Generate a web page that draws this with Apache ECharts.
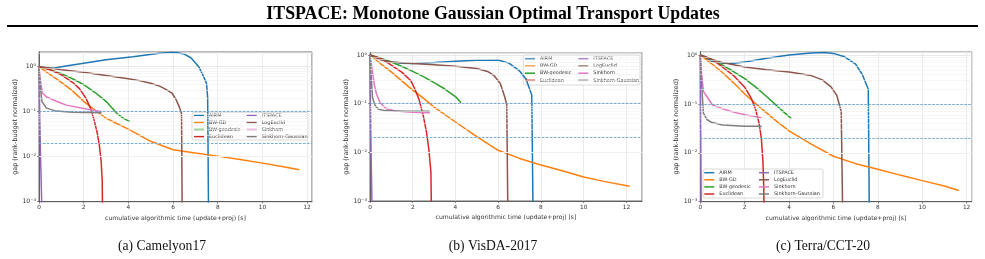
<!DOCTYPE html>
<html><head><meta charset="utf-8">
<script src="https://cdn.jsdelivr.net/npm/echarts@6/dist/echarts.min.js"></script>
<style>html,body{margin:0;padding:0;background:#fff}#c{width:985px;height:259px}</style>
</head><body><div id="c"></div><script>
// ---------- data ----------
const methods = ['AIRM','BW-GD','BW-geodesic','Euclidean','ITSPACE','LogEuclid','Sinkhorn','Sinkhorn-Gaussian'];
const colors = ['#1f77b4','#ff7f0e','#2ca02c','#d62728','#9467bd','#8c564b','#e377c2','#7f7f7f'];
const thresholds = [0.1, 0.02];
const xTicks = [0, 2, 4, 6, 8, 10, 12];
const yTicks = [0.001, 0.01, 0.1, 1];
const panelTitles = ['(a) Camelyon17', '(b) VisDA-2017', '(c) Terra/CCT-20'];

// (a) Camelyon17  [time s, gap]
const cam_AIRM = [[0,1],[0.3,0.92],[0.7,0.93],[1.2,1.03],[2,1.19],[3,1.42],[4.2,1.67],[5.4,1.98],[5.9,2.08],[6.2,2.05],[6.5,1.9],[6.8,1.58],[7.15,1.0],[7.37,0.6],[7.5,0.42],[7.55,0.2],[7.6,0.0001]];
const cam_BWGD = [[0,1],[0.5,0.67],[1,0.45],[1.5,0.29],[2,0.17],[2.5,0.108],[3,0.072],[3.5,0.054],[4,0.041],[5,0.022],[6,0.0143],[7,0.0121],[8,0.0103],[9,0.0087],[10,0.0072],[11,0.0059],[11.65,0.0051]];
const cam_BWgeo = [[0,1],[0.5,0.86],[1,0.7],[1.5,0.54],[2,0.4],[2.5,0.27],[3,0.17],[3.5,0.09],[3.8,0.07],[4.07,0.06]];
const cam_Eucl = [[0,1],[0.5,0.85],[1,0.66],[1.5,0.45],[1.8,0.33],[2.1,0.2],[2.3,0.12],[2.45,0.07],[2.6,0.035],[2.7,0.018],[2.78,0.008],[2.83,0.003],[2.86,0.0001]];
const cam_ITS = [[0,1],[0.03,0.1],[0.07,0.01],[0.12,0.001],[0.14,0.0001]];
const cam_LogE = [[0,1],[0.5,0.93],[1,0.86],[2,0.75],[3,0.64],[4,0.54],[4.5,0.49],[5,0.43],[5.4,0.37],[5.7,0.31],[5.95,0.26],[6.15,0.18],[6.3,0.12],[6.38,0.09],[6.42,0.0001]];
const cam_Sink = [[0,1],[0.05,0.55],[0.15,0.26],[0.33,0.215],[0.78,0.17],[1.23,0.14],[2,0.118],[2.5,0.107],[2.8,0.1]];
const cam_SinkG = [[0,1],[0.05,0.4],[0.13,0.17],[0.33,0.12],[0.78,0.103],[1.5,0.097],[2.8,0.095]];

// (b) VisDA-2017
const vis_AIRM = [[0,1],[0.5,0.82],[1,0.72],[1.5,0.68],[2,0.67],[3,0.7],[4,0.74],[5,0.78],[6,0.79],[6.5,0.68],[7,0.47],[7.3,0.32],[7.57,0.15],[7.65,0.0001]];
const vis_BWGD = [[0,1],[0.5,0.66],[1,0.45],[1.5,0.29],[2,0.19],[2.5,0.13],[3,0.085],[4,0.042],[5,0.021],[6,0.011],[7,0.0075],[8,0.0055],[9,0.0042],[10,0.0031],[11,0.0025],[12.15,0.002]];
const vis_BWgeo = [[0,1],[0.5,0.86],[1,0.72],[1.5,0.58],[2,0.46],[2.5,0.36],[3,0.27],[3.5,0.2],[4,0.14],[4.26,0.105]];
const vis_Eucl = [[0,1],[0.5,0.85],[1,0.62],[1.5,0.44],[1.9,0.3],[2.1,0.2],[2.3,0.12],[2.5,0.055],[2.65,0.025],[2.75,0.012],[2.85,0.004],[2.9,0.0001]];
const vis_ITS = [[0,1],[0.02,0.1],[0.05,0.01],[0.09,0.001],[0.1,0.0001]];
const vis_LogE = [[0,1],[0.5,0.8],[1,0.72],[2,0.67],[3,0.63],[4,0.59],[5,0.53],[5.5,0.46],[5.8,0.38],[6.1,0.26],[6.3,0.14],[6.4,0.095],[6.47,0.0001]];
const vis_Sink = [[0,1],[0.1,0.5],[0.2,0.25],[0.3,0.16],[0.45,0.11],[0.6,0.09],[0.8,0.078],[1.2,0.071],[2,0.067],[2.8,0.065]];
const vis_SinkG = [[0,1],[0.05,0.4],[0.12,0.13],[0.25,0.09],[0.4,0.077],[0.7,0.072],[1.5,0.07],[2.8,0.07]];

// (c) Terra/CCT-20
const ter_AIRM = [[0,1],[0.5,0.75],[1,0.68],[1.5,0.68],[2,0.72],[3,0.86],[4,1.0],[5,1.1],[5.6,1.13],[6,1.08],[6.5,0.92],[7,0.65],[7.3,0.4],[7.57,0.2],[7.63,0.0001]];
const ter_BWGD = [[0,1],[0.5,0.67],[1,0.44],[1.5,0.27],[2,0.16],[2.5,0.1],[3,0.065],[3.5,0.042],[4,0.028],[5,0.015],[6,0.0085],[7,0.006],[8,0.0046],[9,0.0035],[10,0.0027],[11,0.0021],[11.65,0.0017]];
const ter_BWgeo = [[0,1],[0.5,0.82],[1,0.62],[1.5,0.46],[2,0.33],[2.5,0.22],[3,0.14],[3.5,0.087],[4.1,0.05]];
const ter_Eucl = [[0,1],[0.5,0.82],[1,0.57],[1.5,0.38],[2,0.22],[2.3,0.13],[2.5,0.075],[2.65,0.04],[2.75,0.02],[2.82,0.007],[2.86,0.002],[2.88,0.0001]];
const ter_ITS = [[0,1],[0.01,0.1],[0.025,0.01],[0.04,0.001],[0.05,0.0001]];
const ter_LogE = [[0,1],[0.5,0.82],[1,0.7],[2,0.57],[3,0.5],[4,0.45],[5,0.38],[5.5,0.31],[5.9,0.22],[6.15,0.15],[6.35,0.07],[6.44,0.0001]];
const ter_Sink = [[0,1],[0.05,0.45],[0.14,0.18],[0.3,0.14],[0.55,0.095],[1,0.08],[1.5,0.068],[2,0.06],[2.5,0.055],[2.76,0.052]];
const ter_SinkG = [[0,1],[0.05,0.3],[0.14,0.065],[0.3,0.048],[0.5,0.042],[1,0.037],[2,0.035],[2.76,0.035]];

const panelData = [
  [cam_AIRM, cam_BWGD, cam_BWgeo, cam_Eucl, cam_ITS, cam_LogE, cam_Sink, cam_SinkG],
  [vis_AIRM, vis_BWGD, vis_BWgeo, vis_Eucl, vis_ITS, vis_LogE, vis_Sink, vis_SinkG],
  [ter_AIRM, ter_BWGD, ter_BWgeo, ter_Eucl, ter_ITS, ter_LogE, ter_Sink, ter_SinkG]
];

// ---------- layout ----------
const layout = [
  {grid:{left:39,top:52,width:273,height:149.7}, xMax:12.22, yMax:2.12, nameGap:19,
   leg:{top:112.3, c1:194, c2:246.7, box:[192,112.3,116,27.7]}, cap:[162,246]},
  {grid:{left:370,top:52.7,width:272,height:148.3}, xMax:12.73, yMax:1.115, nameGap:17.5,
   leg:{top:56, c1:525, c2:578.3, box:[523.3,55,116.7,30]}, cap:[493,246]},
  {grid:{left:700.3,top:51.7,width:271.4,height:150}, xMax:12.23, yMax:1.17, nameGap:19,
   leg:{top:169.7, c1:704.3, c2:759, box:[703,169,120,29]}, cap:[823,246]}
];

const supMap = {'-':'\u207b','0':'\u2070','1':'\u00b9','2':'\u00b2','3':'\u00b3','4':'\u2074','5':'\u2075','6':'\u2076','7':'\u2077','8':'\u2078','9':'\u2079'};
function logFmt(v){
  const l = Math.log10(v), e = Math.round(l);
  if (Math.abs(l - e) > 1e-6) return '';
  return '10' + String(e).split('').map(c => supMap[c]).join('');
}
function xFmt(v){ return xTicks.some(t => Math.abs(t - v) < 1e-9) ? String(v) : ''; }

const minorVals = [];
for (let e = -3; e <= 0; e++) for (let k = 2; k <= 9; k++) minorVals.push(k * Math.pow(10, e));

const font = 'DejaVu Sans';
const grids = [], xAxes = [], yAxes = [], series = [], legends = [], graphics = [];

layout.forEach((L, p) => {
  grids.push(Object.assign({show:true, borderColor:'#444', borderWidth:0.8, backgroundColor:'transparent'}, L.grid));
  xAxes.push({
    type:'value', gridIndex:p, min:0, max:L.xMax, interval:2,
    name:'cumulative algorithmic time (update+proj) [s]', nameLocation:'middle', nameGap:13.5,
    nameTextStyle:{fontFamily:font, fontSize:6.1, color:'#333'},
    axisLine:{show:true, lineStyle:{color:'#444', width:0.8}},
    axisTick:{show:true, length:2, lineStyle:{color:'#444', width:0.6}},
    axisLabel:{fontFamily:font, fontSize:5.8, color:'#333', margin:3, formatter:xFmt, showMaxLabel:false},
    splitLine:{show:true, lineStyle:{color:'#e2e2e2', width:0.7}}
  });
  yAxes.push({
    type:'log', gridIndex:p, min:yTicks[0], max:L.yMax, logBase:10,
    name:'gap (rank-budget normalized)', nameLocation:'middle', nameGap:L.nameGap, nameRotate:90,
    nameTextStyle:{fontFamily:font, fontSize:6.4, color:'#333'},
    axisLine:{show:true, lineStyle:{color:'#444', width:0.8}},
    axisTick:{show:true, length:2, lineStyle:{color:'#444', width:0.6}},
    axisLabel:{fontFamily:font, fontSize:6.2, color:'#333', margin:3, formatter:logFmt, showMaxLabel:false},
    splitLine:{show:true, lineStyle:{color:'#e0e0e0', width:0.7}}
  });
  // minor log grid + threshold lines
  series.push({
    name:'_grid'+p, type:'line', xAxisIndex:p, yAxisIndex:p, data:[], z:1, silent:true,
    itemStyle:{color:'#6aa3d0'}, lineStyle:{color:'#6aa3d0'},
    markLine:{
      silent:true, symbol:['none','none'], label:{show:false}, animation:false,
      data: minorVals.filter(v => v < L.yMax).map(v => ({yAxis:v, lineStyle:{color:'#f0f0f0', width:0.6, type:'solid'}}))
        .concat(thresholds.map(v => ({yAxis:v, lineStyle:{color:'#6aa3d0', opacity:1, width:0.9, type:[2.5,1.5]}})))
    }
  });
  methods.forEach((m, i) => {
    series.push({
      name:m, type:'line', xAxisIndex:p, yAxisIndex:p, data:panelData[p][i],
      showSymbol:false, symbol:'none', clip:true, animation:false,
      lineStyle:{color:colors[i], width:1.5, type:'solid'}, itemStyle:{color:colors[i]}
    });
  });
  const legBase = {
    orient:'vertical', top:L.leg.top, padding:0, itemGap:1.1, itemWidth:10, itemHeight:1.5, icon:'rect',
    textStyle:{fontFamily:font, fontSize:4.9, color:'#333', lineHeight:6}, z:5, selectedMode:false
  };
  legends.push(Object.assign({}, legBase, {left:L.leg.c1, data:methods.slice(0,4)}));
  legends.push(Object.assign({}, legBase, {left:L.leg.c2, data:methods.slice(4)}));
  const b = L.leg.box;
  graphics.push({type:'rect', z:3, shape:{x:b[0], y:b[1], width:b[2], height:b[3], r:2},
    style:{fill:'rgba(255,255,255,0.8)', stroke:'#cfcfcf', lineWidth:0.8}});
  graphics.push({type:'text', x:L.cap[0], y:L.cap[1], z:5,
    style:{text:panelTitles[p], fill:'#111', fontFamily:'Liberation Serif', fontSize:13.6, align:'center', verticalAlign:'middle'}});
});

graphics.push({type:'text', x:493, y:14, z:5,
  style:{text:'ITSPACE: Monotone Gaussian Optimal Transport Updates', fill:'#000', fontFamily:'Liberation Serif', fontWeight:'bold', fontSize:17.8, align:'center', verticalAlign:'middle'}});
graphics.push({type:'line', z:5, shape:{x1:7, y1:26, x2:978, y2:26}, style:{stroke:'#000', lineWidth:2}});

const chart = echarts.init(document.getElementById('c'), null, {renderer:'canvas'});
chart.setOption({
  animation:false, backgroundColor:'#fff',
  grid:grids, xAxis:xAxes, yAxis:yAxes, series:series, legend:legends, graphic:graphics,
  tooltip:{show:false}
});
</script></body></html>
